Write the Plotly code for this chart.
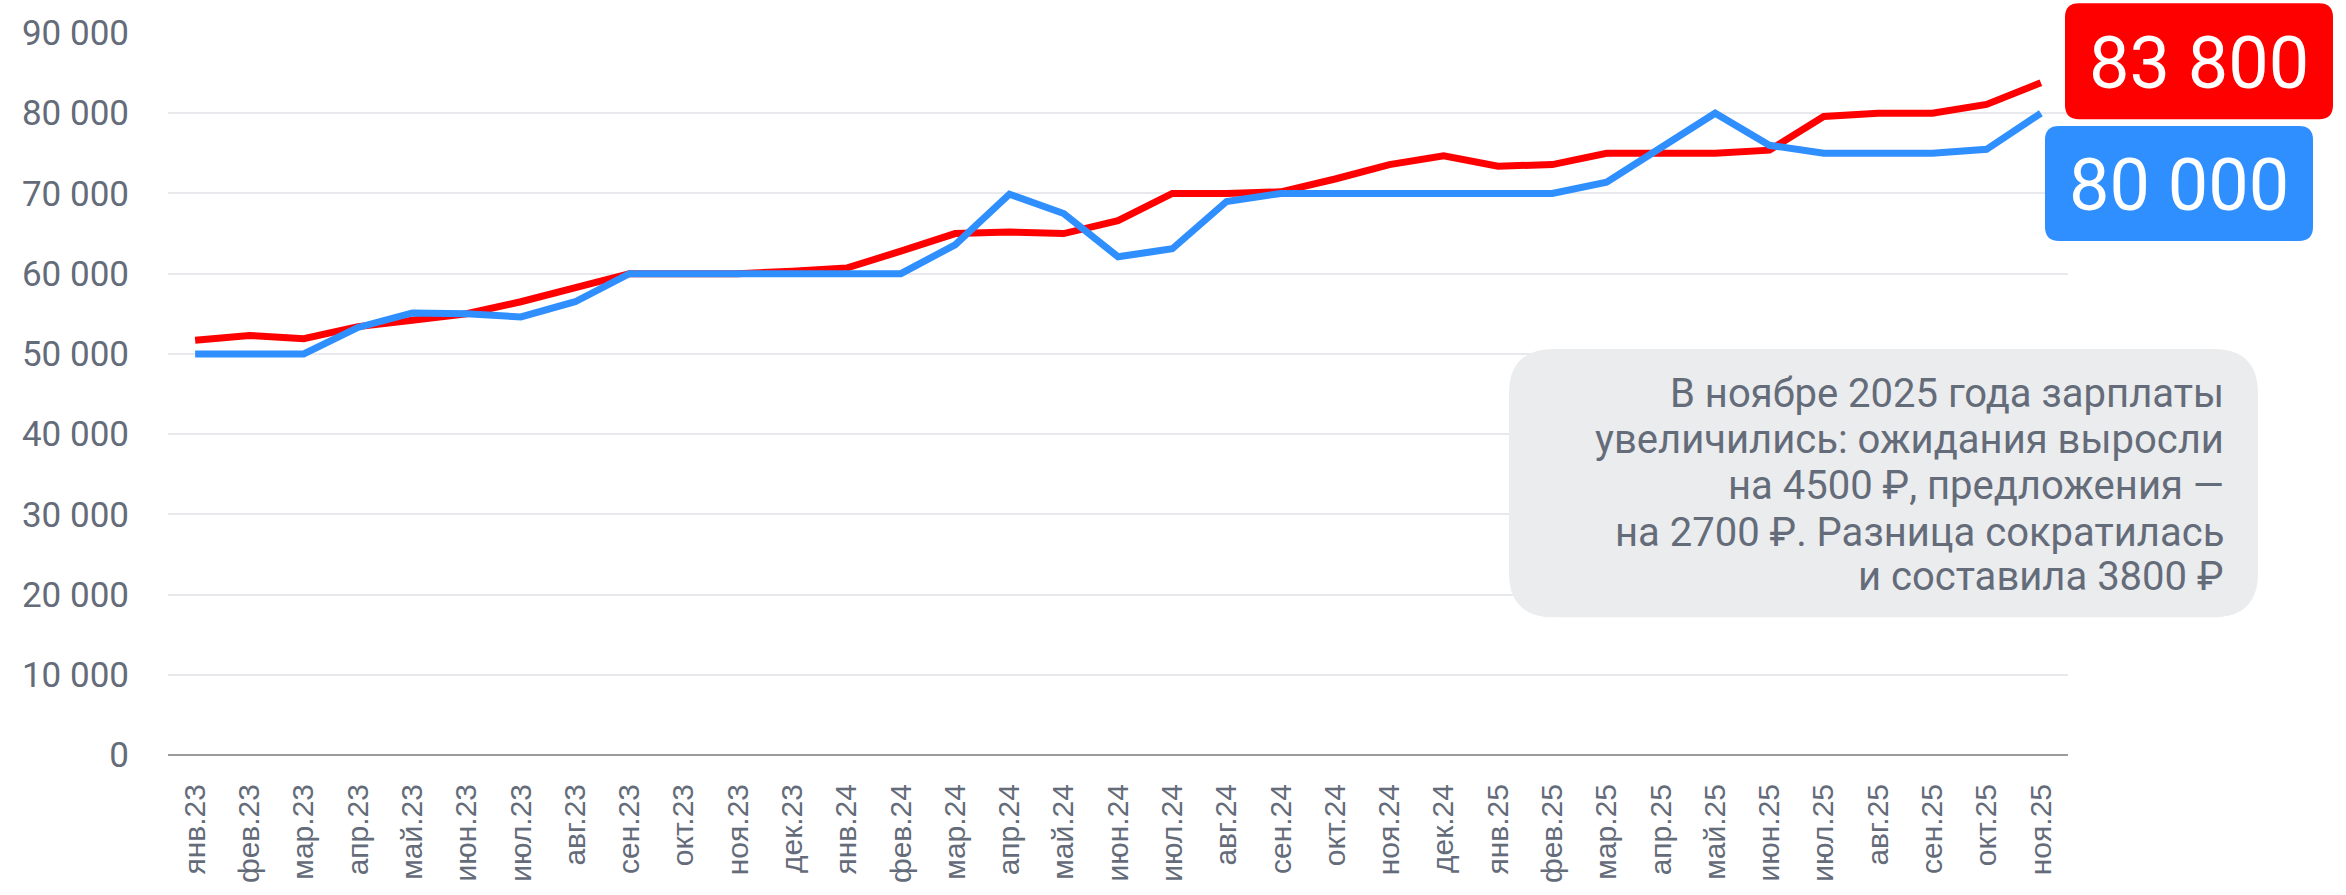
import plotly.graph_objects as go

# ---------------- data ----------------
months = ["янв.23", "фев.23", "мар.23", "апр.23", "май.23", "июн.23", "июл.23", "авг.23",
          "сен.23", "окт.23", "ноя.23", "дек.23",
          "янв.24", "фев.24", "мар.24", "апр.24", "май.24", "июн.24", "июл.24", "авг.24",
          "сен.24", "окт.24", "ноя.24", "дек.24",
          "янв.25", "фев.25", "мар.25", "апр.25", "май.25", "июн.25", "июл.25", "авг.25",
          "сен.25", "окт.25", "ноя.25"]

expectations = [51700, 52300, 51900, 53400, 54200, 55000, 56500, 58300, 60000, 60000, 60000, 60300,
                60700, 62800, 65000, 65200, 65000, 66600, 70000, 70000, 70200, 71800, 73600, 74700,
                73400, 73600, 75000, 75000, 75000, 75400, 79600, 80000, 80000, 81100, 83800]

offers = [50000, 50000, 50000, 53300, 55100, 55000, 54600, 56500, 60000, 60000, 60000, 60000,
          60000, 60000, 63600, 69900, 67500, 62100, 63100, 69000, 70000, 70000, 70000, 70000,
          70000, 70000, 71400, 75800, 80000, 76000, 75000, 75000, 75000, 75500, 80000]

y_ticks = [0, 10000, 20000, 30000, 40000, 50000, 60000, 70000, 80000, 90000]

note_lines = ["В ноябре 2025 года зарплаты",
              "увеличились: ожидания выросли",
              "на 4500 ₽, предложения —",
              "на 2700 ₽. Разница сократилась",
              "и составила 3800 ₽"]

# ---------------- style ----------------
W, H = 2346, 895
ML, MR, MT, MB = 168, 278, 33, 133
PW, PH = W - ML - MR, H - MT - MB
RED = "#ff0000"
BLUE = "#308fff"
GRAY_TXT = "#646b79"
FONT = "Roboto"


def px2paper(px, py):
    return (px - ML) / PW, (H - MB - py) / PH


def rounded_rect(x0, y0, x1, y1, r):
    """Rounded rectangle path (pixel coords in, paper coords out)."""
    def P(x, y):
        a, b = px2paper(x, y)
        return f"{a:.5f},{b:.5f}"
    return (f"M {P(x0 + r, y0)} L {P(x1 - r, y0)} Q {P(x1, y0)} {P(x1, y0 + r)} "
            f"L {P(x1, y1 - r)} Q {P(x1, y1)} {P(x1 - r, y1)} "
            f"L {P(x0 + r, y1)} Q {P(x0, y1)} {P(x0, y1 - r)} "
            f"L {P(x0, y0 + r)} Q {P(x0, y0)} {P(x0 + r, y0)} Z")


def fmt(v):
    return f"{v:,}".replace(",", " ")


fig = go.Figure()
fig.add_trace(go.Scatter(x=months, y=expectations, mode="lines",
                         line=dict(color=RED, width=7), name="Ожидания",
                         hoverinfo="x+y"))
fig.add_trace(go.Scatter(x=months, y=offers, mode="lines",
                         line=dict(color=BLUE, width=7), name="Предложения",
                         hoverinfo="x+y"))

shapes = []
annotations = []

# grey note box
shapes.append(dict(type="path", xref="paper", yref="paper", layer="above",
                   path=rounded_rect(1509, 352, 2258, 623, 45),
                   fillcolor="#ebecee", line=dict(width=0)))
line_centers = [397, 443, 490, 537, 582]
for txt, cy in zip(note_lines, line_centers):
    xp, yp = px2paper(2226, cy)
    annotations.append(dict(text=txt, xref="paper", yref="paper", x=xp, y=yp,
                            xanchor="right", yanchor="middle", showarrow=False,
                            font=dict(family=FONT, size=40, color=GRAY_TXT)))

# value badges
badges = [(expectations[-1], RED, (2065, 3, 2333, 120)),
          (offers[-1], BLUE, (2045, 127, 2313, 243))]
for val, col, (x0, y0, x1, y1) in badges:
    shapes.append(dict(type="path", xref="paper", yref="paper", layer="above",
                       path=rounded_rect(x0, y0, x1, y1, 14),
                       fillcolor=col, line=dict(width=0)))
    xp, yp = px2paper((x0 + x1) / 2, (y0 + y1) / 2 + 2)
    annotations.append(dict(text=fmt(val), xref="paper", yref="paper", x=xp, y=yp,
                            xanchor="center", yanchor="middle", showarrow=False,
                            font=dict(family=FONT, size=72, color="white")))

fig.update_layout(
    width=W, height=H,
    margin=dict(l=ML, r=MR, t=MT, b=MB, pad=0),
    paper_bgcolor="white", plot_bgcolor="white",
    showlegend=False,
    separators=", ",
    shapes=shapes, annotations=annotations,
    xaxis=dict(type="category", categoryorder="array", categoryarray=months,
               range=[-0.5, len(months) - 0.5],
               tickangle=-90, showgrid=False, showline=False, zeroline=False,
               ticks="", ticklabelstandoff=22,
               tickfont=dict(family="Liberation Sans, Arial", size=30, color=GRAY_TXT)),
    yaxis=dict(range=[0, 90000], tickvals=y_ticks, tickformat=",d",
               showgrid=True, gridcolor="#e8e9ed", gridwidth=2,
               zeroline=True, zerolinecolor="#9c9c9c", zerolinewidth=2,
               showline=False, ticks="", ticklabelstandoff=38,
               tickfont=dict(family=FONT, size=35, color=GRAY_TXT)),
)

fig.write_html("out.html", config={"displayModeBar": False},
               post_script="document.body.style.margin='0';")
